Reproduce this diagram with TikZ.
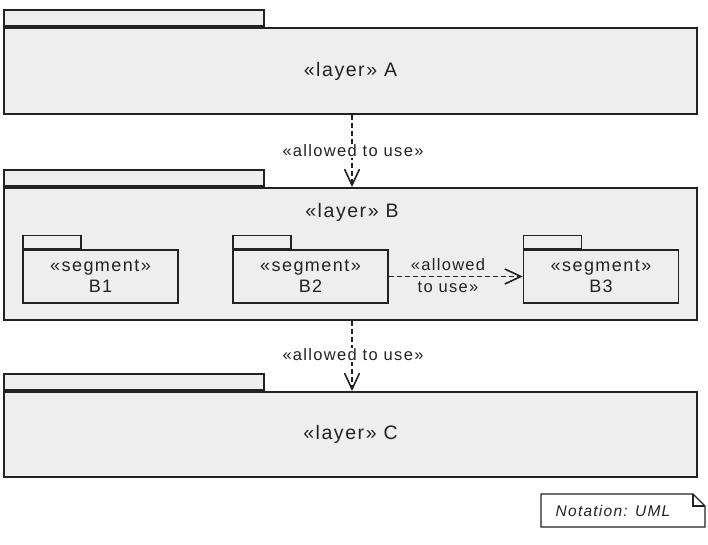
\documentclass[tikz,border=0pt]{standalone}
\usepackage{fontspec}
\setmainfont{Liberation Sans}[LetterSpace=8]
\usetikzlibrary{positioning, arrows.meta}
\definecolor{pkgfill}{HTML}{EDEEED}
\definecolor{ink}{HTML}{222222}

\begin{document}
\begin{tikzpicture}[x=1pt, y=-1pt,
    pkg/.style={draw=ink, line width=2pt, fill=pkgfill, inner sep=0pt, text=ink,
        font=\fontsize{19.5}{22}\selectfont},
    pkgtab/.style={draw=ink, line width=2pt, fill=pkgfill, inner sep=0pt,
        minimum height=16pt, minimum width=260pt, anchor=south west},
    seg/.style={draw=ink, line width=1.6pt, fill=pkgfill, inner sep=0pt, text=ink,
        minimum width=155pt, minimum height=53pt, align=center,
        font=\fontsize{18}{21}\selectfont},
    segtab/.style={draw=ink, line width=1.6pt, fill=pkgfill, inner sep=0pt,
        minimum height=13pt, minimum width=58pt, anchor=south west},
    dep/.style={draw=ink, line width=1.6pt, dash pattern=on 5pt off 3pt,
        -{Straight Barb[length=16pt, width=15pt, line width=1.6pt]}},
    deplabel/.style={text=ink, inner sep=1pt, align=center,
        font=\fontsize{16.5}{22}\selectfont}]
    \useasboundingbox (0,0) rectangle (708,545);

    % Layer A
    \node[pkg, minimum width=693pt, minimum height=86pt] (A) at (350.5,71) {«layer» A};
    \node[pkgtab] (Atab) at (A.north west) {};

    % Layer B with its segments
    \node[pkg, minimum width=693pt, minimum height=132pt] (B) at (350.5,254) {};
    \node[pkgtab] (Btab) at (B.north west) {};
    \node[text=ink, font=\fontsize{19.5}{22}\selectfont] (Blabel) at (352,212) {«layer» B};

    \node[seg] (B1) at (100.5,276.5) {«segment»\\B1};
    \node[segtab] (B1tab) at (B1.north west) {};
    \node[seg] (B2) at (310.5,276.5) {«segment»\\B2};
    \node[segtab] (B2tab) at (B2.north west) {};
    \node[seg] (B3) at (601,276.5) {«segment»\\B3};
    \node[segtab] (B3tab) at (B3.north west) {};

    % Layer C
    \node[pkg, minimum width=693pt, minimum height=85pt] (C) at (350.5,434.5) {«layer» C};
    \node[pkgtab] (Ctab) at (C.north west) {};

    % Dependencies
    \coordinate (AB1) at (A.south -| 352,0);
    \coordinate (AB2) at (B.north -| 352,0);
    \coordinate (BC1) at (B.south -| 352,0);
    \coordinate (BC2) at (C.north -| 352,0);
    \draw[dep] (AB1) -- (AB2);
    \node[deplabel, fill=white] (ABlabel) at (353,151) {«allowed to use»};
    \draw[dep] (BC1) -- (BC2);
    \node[deplabel, fill=white] (BClabel) at (353,355) {«allowed to use»};
    \draw[dep] (B2) -- (B3);
    \node[deplabel] (B23label) at (448,276) {«allowed\\to use»};

    % Note
    \coordinate (nw) at (541,494);
    \coordinate (se) at (705,527);
    \draw[ink, line width=1.3pt, fill=white] (nw) -- (693,494) -- (705,506) -- (se) -- (541,527) -- cycle;
    \draw[ink, line width=1.3pt] (693,494) -- (693,506) -- (705,506);
    \node[text=ink, inner sep=0pt, font=\fontsize{15.5}{17}\itshape] (note) at (613,511) {Notation: UML};
\end{tikzpicture}
\end{document}
